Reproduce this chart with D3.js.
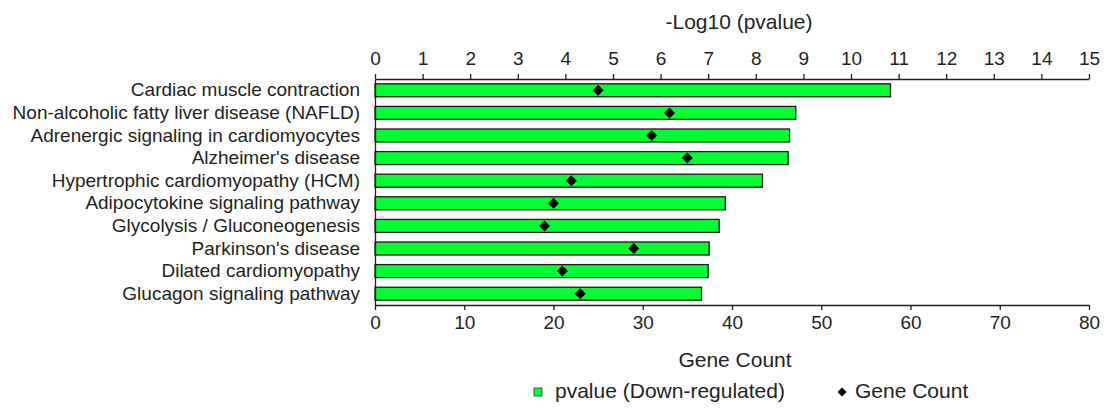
<!DOCTYPE html>
<html><head><meta charset="utf-8">
<script src="https://cdn.jsdelivr.net/npm/d3@7"></script>
<style>
body{margin:0;background:#fff;}
text{font-family:"Liberation Sans",Arial,Helvetica,sans-serif;fill:#231f20;}
</style></head>
<body><svg id="c" width="1107" height="411"></svg>
<script>
const categories = ["Cardiac muscle contraction","Non-alcoholic fatty liver disease (NAFLD)","Adrenergic signaling in cardiomyocytes","Alzheimer's disease","Hypertrophic cardiomyopathy (HCM)","Adipocytokine signaling pathway","Glycolysis / Gluconeogenesis","Parkinson's disease","Dilated cardiomyopathy","Glucagon signaling pathway"];
const logP = [10.83, 8.84, 8.71, 8.68, 8.14, 7.36, 7.23, 7.02, 7.0, 6.86];
const geneCount = [25, 33, 31, 35, 22, 20, 19, 29, 21, 23];
const topTicks = d3.range(0, 16, 1);
const bottomTicks = d3.range(0, 81, 10);

const svg = d3.select("#c");
const L = 375, R = 1089, T = 79, B = 305;
const xTop = d3.scaleLinear().domain([0, 15]).range([L, R]);
const xBot = d3.scaleLinear().domain([0, 80]).range([L, R]);
const y = d3.scaleBand().domain(categories).range([T, B]).paddingInner(0.425).paddingOuter(0.2125);
const fs = 19, fsT = 21;

// bars
svg.append("g").selectAll("rect").data(categories).join("rect")
  .attr("x", xTop(0)).attr("y", d => y(d))
  .attr("width", (d, i) => xTop(logP[i]) - xTop(0))
  .attr("height", y.bandwidth())
  .attr("fill", "#00ff33").attr("stroke", "#1a1a1a").attr("stroke-width", 1.3);

// diamonds
const dia = s => `M0,${-s}L${s},0L0,${s}L${-s},0Z`;
svg.append("g").selectAll("path").data(categories).join("path")
  .attr("transform", (d, i) => `translate(${xBot(geneCount[i])},${y(d) + y.bandwidth() / 2})`)
  .attr("d", dia(5.5)).attr("fill", "#000");

// axes
const gTop = svg.append("g").attr("transform", `translate(0,${T})`)
  .call(d3.axisTop(xTop).tickValues(topTicks).tickSize(5).tickSizeOuter(0).tickPadding(9));
const gBot = svg.append("g").attr("transform", `translate(0,${B})`)
  .call(d3.axisBottom(xBot).tickValues(bottomTicks).tickSize(5).tickSizeOuter(0).tickPadding(6));
const gLeft = svg.append("g").attr("transform", `translate(${L},0)`)
  .call(d3.axisLeft(y).tickSize(0).tickPadding(15));
[gTop, gBot, gLeft].forEach(g => {
  g.selectAll("path.domain").attr("stroke", "#231f20").attr("stroke-width", 1.3);
  g.selectAll("line").attr("stroke", "#231f20").attr("stroke-width", 1.3);
  g.selectAll("text").attr("font-size", fs).attr("font-family", "Liberation Sans, Arial, sans-serif").attr("fill", "#231f20");
});

// titles
svg.append("text").attr("x", 739).attr("y", 29).attr("text-anchor", "middle").attr("font-size", fsT).text("-Log10 (pvalue)");
svg.append("text").attr("x", 735).attr("y", 367).attr("text-anchor", "middle").attr("font-size", fsT).text("Gene Count");

// legend
const lg = svg.append("g");
lg.append("rect").attr("x", 534).attr("y", 388).attr("width", 8).attr("height", 8).attr("fill", "#00ff33").attr("stroke", "#555").attr("stroke-width", 1);
lg.append("text").attr("x", 555).attr("y", 398).attr("font-size", fsT).text("pvalue (Down-regulated)");
lg.append("path").attr("transform", "translate(842,392)").attr("d", dia(4.5)).attr("fill", "#000");
lg.append("text").attr("x", 855).attr("y", 398).attr("font-size", fsT).text("Gene Count");
</script></body></html>
